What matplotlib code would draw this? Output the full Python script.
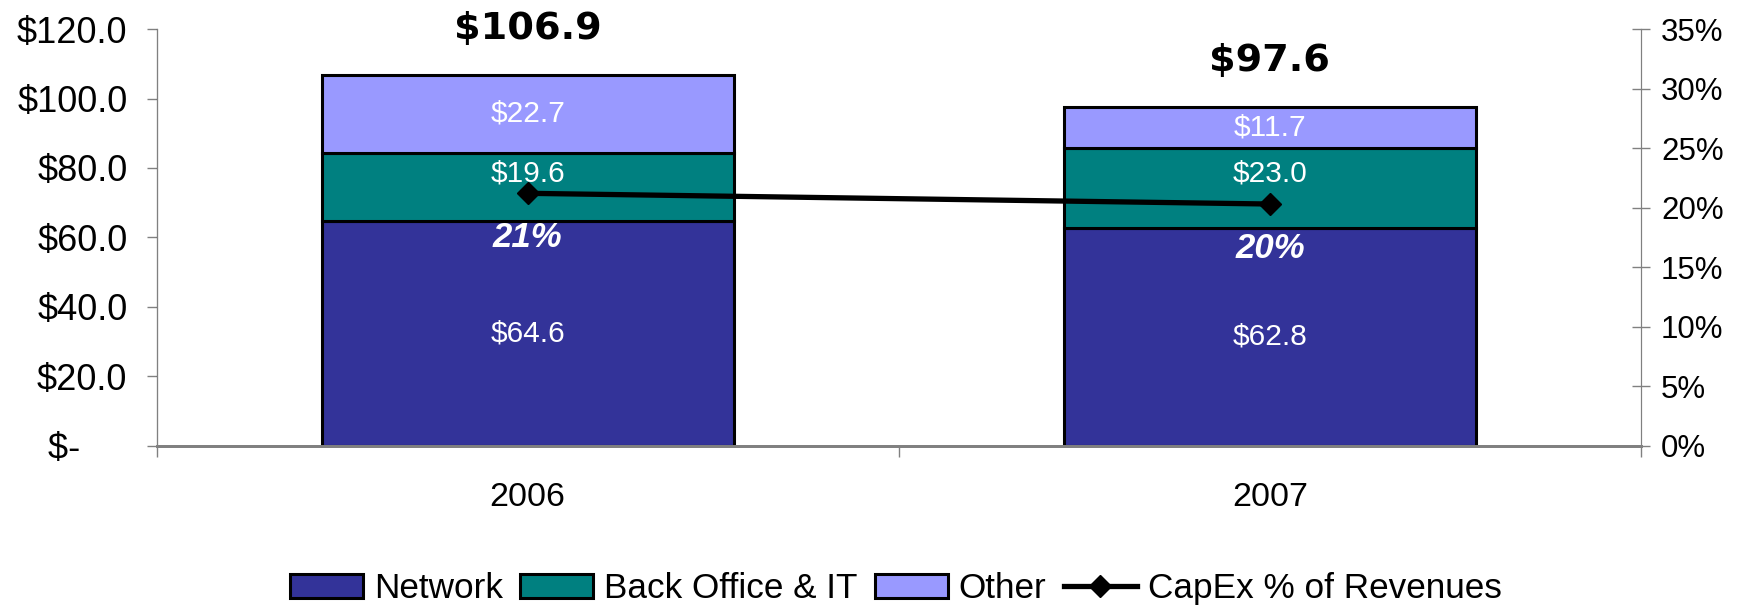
import matplotlib
matplotlib.use("Agg")
import matplotlib.pyplot as plt
from matplotlib.ticker import FuncFormatter, PercentFormatter

plt.rcParams['font.family'] = ['Liberation Sans', 'DejaVu Sans']

# CapEx by category ($M)
years = ['2006', '2007']
network = [64.6, 62.8]
back_office = [19.6, 23.0]
other = [22.7, 11.7]
totals = [106.9, 97.6]
capex_pct = [0.212, 0.203]

colors = {'Network': '#333399', 'Back Office & IT': '#008080', 'Other': '#9999FF'}

fig = plt.figure(figsize=(17.53, 6.07), dpi=100)
ax = fig.add_axes([0.0893, 0.266, 0.8468, 0.686])
ax2 = ax.twinx()

x = list(range(len(years)))
width = 0.555

bottoms = [0.0] * len(years)
segments = [('Network', network), ('Back Office & IT', back_office), ('Other', other)]
bar_handles = []
for name, vals in segments:
    bars = ax.bar(x, vals, width, bottom=bottoms, color=colors[name],
                  edgecolor='black', linewidth=2.2, label=name, zorder=2)
    bar_handles.append(bars)
    for xi, b, v in zip(x, bottoms, vals):
        dy = 10 if name == 'Back Office & IT' else 0
        ax.annotate(f'${v:.1f}', (xi, b + v / 2), xytext=(0, dy), textcoords='offset points',
                    ha='center', va='center', color='white', fontsize=21.5, zorder=5)
    bottoms = [b + v for b, v in zip(bottoms, vals)]

# totals above each stack
for xi, top, t in zip(x, bottoms, totals):
    ax.annotate(f'${t:.1f}', (xi, top), xytext=(0, 33), textcoords='offset points',
                ha='center', va='center', fontsize=27.5, fontweight='bold',
                family='DejaVu Sans', annotation_clip=False)

line, = ax2.plot(x, capex_pct, color='black', linewidth=3.8, marker='D', markersize=11,
                 label='CapEx % of Revenues', zorder=4)
for xi, p in zip(x, capex_pct):
    ax2.annotate(f'{p:.0%}', (xi, p), xytext=(0, -32), textcoords='offset points',
                 ha='center', va='center', color='white', fontsize=25,
                 fontweight='bold', fontstyle='italic')

ax.set_zorder(1)
ax.patch.set_visible(False)
ax2.set_zorder(2)

ax.set_xlim(-0.5, 1.5)
ax.set_ylim(0, 120)
ax2.set_ylim(0, 0.35)
ax.set_yticks(range(0, 121, 20))
# accounting style: zero shows as a dash, padded on the right
ax.yaxis.set_major_formatter(FuncFormatter(lambda v, p: '$-    \u2009' if v == 0 else f'${v:.1f}'))
ax2.set_yticks([i * 0.05 for i in range(8)])
ax2.yaxis.set_major_formatter(PercentFormatter(1.0, decimals=0))

ax.set_xticks(x)
ax.set_xticklabels(years)
ax.set_xticks([-0.5, 0.5, 1.5], minor=True)
ax.tick_params(axis='x', which='major', length=0, pad=26, labelsize=24.5)
ax.tick_params(axis='x', which='minor', length=8, width=1, color='#808080', direction='out')
ax.tick_params(axis='y', length=7, width=1, labelsize=26, pad=14, color='#808080')
ax2.tick_params(axis='y', length=13, width=1, labelsize=22.5, direction='inout', pad=8, color='#808080')

for a in (ax, ax2):
    a.spines['top'].set_visible(False)
    a.spines['left'].set_color('#808080')
    a.spines['right'].set_color('#808080')
    a.spines['bottom'].set_color('#808080')
    a.spines['bottom'].set_linewidth(2)
ax.spines['left'].set_color('black')

handles = bar_handles + [line]
fig.legend(handles, [h.get_label() for h in handles], loc='center', bbox_to_anchor=(0.511, 0.03),
           ncol=4, frameon=False, fontsize=25.3, handlelength=2.08, handletextpad=0.3,
           columnspacing=0.5)

fig.savefig('out.png', dpi=100)
